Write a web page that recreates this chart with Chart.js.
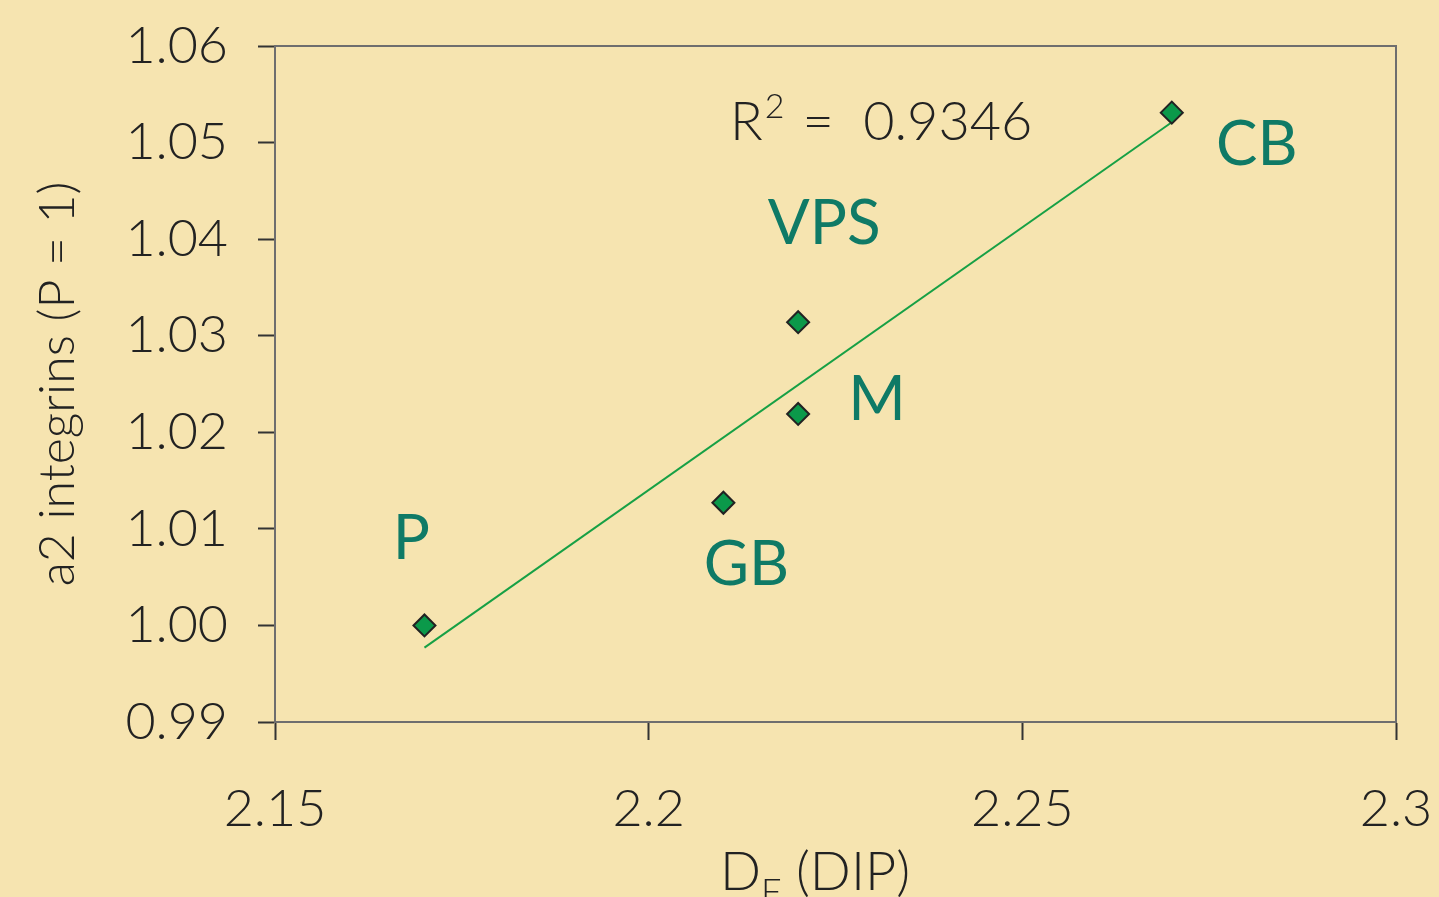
<!DOCTYPE html>
<html>
<head>
<meta charset="utf-8">
<script src="https://cdn.jsdelivr.net/npm/chart.js@4.4.1/dist/chart.umd.min.js"></script>
<style>
  html, body { margin: 0; padding: 0; background: #f6e4b0; }
  #wrap { width: 1439px; height: 897px; }
</style>
</head>
<body>
<div id="wrap"><canvas id="myChart"></canvas></div>
<script>
// data
const groups = ['P', 'GB', 'M', 'VPS', 'CB'];
const dipValues = [2.17, 2.21, 2.22, 2.22, 2.27];
const integrinValues = [1.000, 1.0127, 1.0219, 1.0314, 1.0531];
const trendX = [2.17, 2.27];
const trendY = [0.9977, 1.0521];
const xTicks = ['2.15', '2.2', '2.25', '2.3'];
const yTicks = ['0.99', '1.00', '1.01', '1.02', '1.03', '1.04', '1.05', '1.06'];
const rSquared = '0.9346';

const FONT = 'Lato, "Open Sans", sans-serif';
const labelColor = '#0f7a66';
const textColor = '#222222';

// label offsets from their point, in px
const labelOffsets = {
  P: [-13, -86],
  GB: [23, 62],
  M: [79, -14],
  VPS: [26, -98],
  CB: [85, 32]
};

const extras = {
  id: 'extras',
  afterDraw(chart) {
    const c = chart.ctx;
    const a = chart.chartArea;
    const xs = chart.scales.x;
    const ys = chart.scales.y;

    // frame top + right
    c.save();
    c.strokeStyle = '#6e6e6e';
    c.lineWidth = 2;
    c.beginPath();
    c.moveTo(a.left, a.top);
    c.lineTo(a.right, a.top);
    c.lineTo(a.right, a.bottom);
    c.stroke();

    // group labels
    c.fillStyle = labelColor;
    c.font = '400 62px ' + FONT;
    c.textAlign = 'center';
    c.textBaseline = 'middle';
    groups.forEach((g, i) => {
      const off = labelOffsets[g];
      c.fillText(g, xs.getPixelForValue(dipValues[i]) + off[0], ys.getPixelForValue(integrinValues[i]) + off[1]);
    });

    // R^2
    c.fillStyle = textColor;
    c.font = '300 54px ' + FONT;
    c.textAlign = 'left';
    c.textBaseline = 'alphabetic';
    let x = 730, y = 140;
    c.fillText('R', x, y);
    x += c.measureText('R').width;
    c.font = '300 34px ' + FONT;
    c.fillText('2', x + 2, y - 22);
    x += c.measureText('2').width + 20;
    c.font = '300 54px ' + FONT;
    c.fillText('=  ' + rSquared, x, y);

    // x title D_F (DIP)
    c.font = '300 54px ' + FONT;
    const dW = c.measureText('D').width;
    const restW = c.measureText(' (DIP)').width;
    c.font = '300 36px ' + FONT;
    const fW = c.measureText('F').width;
    let tx = 815 - (dW + fW + restW) / 2;
    const ty = 890;
    c.font = '300 54px ' + FONT;
    c.fillText('D', tx, ty);
    tx += dW;
    c.font = '300 36px ' + FONT;
    c.fillText('F', tx, ty + 14);
    tx += fW;
    c.font = '300 54px ' + FONT;
    c.fillText(' (DIP)', tx, ty);
    c.restore();
  }
};

function noPad(scale) {
  scale.paddingLeft = 0;
  scale.paddingRight = 0;
  scale.paddingTop = 0;
  scale.paddingBottom = 0;
}

const ctx = document.getElementById('myChart');

new Chart(ctx, {
  type: 'scatter',
  data: {
    datasets: [{
      label: 'trend',
      type: 'line',
      data: trendX.map((v, i) => ({x: v, y: trendY[i]})),
      borderColor: '#17a045',
      borderWidth: 2,
      pointRadius: 0,
      fill: false,
      order: 2
    }, {
      label: 'groups',
      data: dipValues.map((v, i) => ({x: v, y: integrinValues[i]})),
      pointStyle: 'rectRot',
      pointRadius: 11,
      pointBackgroundColor: '#0b994a',
      pointBorderColor: '#222222',
      pointBorderWidth: 2,
      order: 1
    }]
  },
  options: {
    responsive: true,
    maintainAspectRatio: false,
    animation: false,
    layout: {
      padding: {top: 46, right: 43, left: 0, bottom: 0}
    },
    scales: {
      x: {
        type: 'linear',
        min: 2.15,
        max: 2.3,
        afterBuildTicks(scale) {
          scale.ticks = xTicks.map(t => ({value: parseFloat(t)}));
        },
        afterFit(scale) { scale.height = 175; noPad(scale); },
        grid: {
          drawOnChartArea: false,
          drawTicks: true,
          tickLength: 18,
          tickColor: '#333333',
          tickWidth: 2
        },
        border: {color: '#6e6e6e', width: 2},
        ticks: {
          color: textColor,
          padding: 38,
          maxRotation: 0,
          font: {family: FONT, size: 52, weight: '300'},
          callback: (v, i) => xTicks[i]
        }
      },
      y: {
        min: 0.99,
        max: 1.06,
        afterBuildTicks(scale) {
          scale.ticks = yTicks.map(t => ({value: parseFloat(t)}));
        },
        afterFit(scale) { scale.width = 275; noPad(scale); },
        grid: {
          drawOnChartArea: false,
          drawTicks: true,
          tickLength: 17,
          tickColor: '#333333',
          tickWidth: 2
        },
        border: {color: '#6e6e6e', width: 2},
        ticks: {
          color: textColor,
          padding: 30,
          font: {family: FONT, size: 52, weight: '300'},
          callback: (v, i) => yTicks[i]
        },
        title: {
          display: true,
          text: 'a2 integrins (P = 1)',
          color: textColor,
          padding: {top: 28, bottom: 0},
          font: {family: FONT, size: 50, weight: '300'}
        }
      }
    },
    plugins: {
      legend: {display: false},
      tooltip: {enabled: false}
    }
  },
  plugins: [extras]
});
</script>
</body>
</html>
